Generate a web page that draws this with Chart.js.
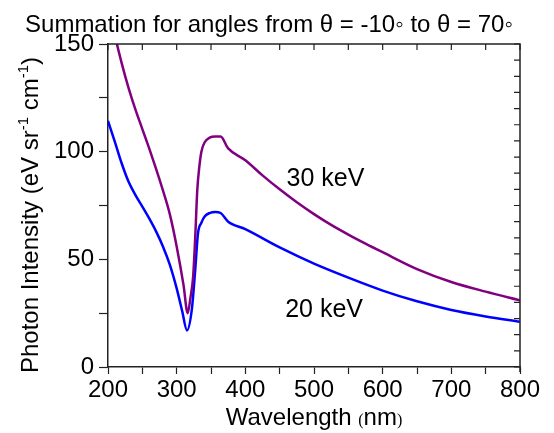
<!DOCTYPE html>
<html>
<head>
<meta charset="utf-8">
<script src="https://cdn.jsdelivr.net/npm/chart.js@4.4.1/dist/chart.umd.min.js"></script>
<style>
  html, body { margin: 0; padding: 0; background: #fff; }
  #wrap { width: 554px; height: 433px; }
</style>
</head>
<body>
<div id="wrap"><canvas id="spectrum"></canvas></div>
<script>
// Values
const wavelength30 = [200, 210, 220, 230, 240, 250, 260, 270, 280, 290, 300, 310, 316, 320, 324, 327, 330, 333, 336, 341, 348, 356, 364, 375, 400, 425, 450, 475, 500, 525, 550, 575, 600, 650, 700, 750, 800];
const intensity30  = [168, 154, 141, 129.5, 119.5, 110.5, 101.5, 92, 82, 71, 56, 38, 25, 32, 42, 60, 82, 93, 100, 104.5, 106.5, 107, 107, 101.5, 96, 89, 82.5, 76.5, 71, 66, 61.5, 57.3, 53.3, 45.5, 39.5, 35, 31];

const wavelength20 = [200, 210, 220, 230, 240, 250, 260, 270, 280, 290, 300, 308, 315, 322, 327, 331, 336, 341, 348, 356, 364, 375, 400, 450, 500, 550, 600, 650, 700, 750, 800];
const intensity20  = [114.3, 104.5, 94.5, 86, 79.8, 74.5, 69, 63, 56, 47.5, 36.5, 26, 17, 26.5, 45, 62, 67, 70, 71.5, 72, 71.5, 67.5, 64, 55.5, 48, 41.5, 35.5, 30.5, 26.5, 23.5, 21];

const xTickLabels = [200, 300, 400, 500, 600, 700, 800];
const yTickLabels = [0, 50, 100, 150];

const chartTitle = 'Summation for angles from \u03b8 = -10\u25e6 to \u03b8 = 70\u25e6';
const seriesNames = ['30 keV', '20 keV'];
const seriesColors = ['#800080', '#0000ff'];
// where the in-plot labels sit (data coords)
const labelPos = [[460, 84], [458, 23.4]];

const FONT = 'Arial, "Liberation Sans", sans-serif';

function toPoints(xs, ys) {
    return xs.map((x, i) => ({ x: x, y: ys[i] }));
}

// frame, inward ticks on top/right, in-plot labels, titles
const decorations = {
    id: 'decorations',
    afterDraw(chart) {
        const ctx = chart.ctx;
        const { left, right, top, bottom } = chart.chartArea;
        const xs = chart.scales.x, ys = chart.scales.y;
        ctx.save();
        ctx.strokeStyle = '#222';
        ctx.lineWidth = 1.5;
        ctx.beginPath();
        ctx.moveTo(left, top);
        ctx.lineTo(right, top);
        ctx.lineTo(right, bottom + 5);
        ctx.stroke();

        ctx.lineWidth = 1.2;
        ctx.beginPath();
        for (let v = 200; v <= 800; v += 50) {
            const px = xs.getPixelForValue(v);
            ctx.moveTo(px, top);
            ctx.lineTo(px, top + 6);
        }
        for (let v = 0; v <= 150; v += 7.5) {
            const py = ys.getPixelForValue(v);
            ctx.moveTo(right, py);
            ctx.lineTo(right - 6, py);
        }
        ctx.stroke();

        ctx.fillStyle = '#000';
        ctx.textBaseline = 'alphabetic';

        // main title
        ctx.font = '24px ' + FONT;
        ctx.textAlign = 'center';
        ctx.fillText(chartTitle, 269, 32);

        // curve labels
        ctx.font = '25px ' + FONT;
        ctx.textAlign = 'left';
        seriesNames.forEach((name, i) => {
            ctx.fillText(name, xs.getPixelForValue(labelPos[i][0]), ys.getPixelForValue(labelPos[i][1]));
        });

        // x title with small parentheses
        const parts = [
            { t: 'Wavelength ', f: '24px ' + FONT },
            { t: '(', f: '16px "Liberation Serif", serif' },
            { t: 'nm', f: '24px ' + FONT },
            { t: ')', f: '16px "Liberation Serif", serif' }
        ];
        let w = 0;
        parts.forEach(p => { ctx.font = p.f; w += ctx.measureText(p.t).width; });
        let cx = (left + right) / 2 - w / 2;
        parts.forEach(p => {
            ctx.font = p.f;
            ctx.fillText(p.t, cx, 425);
            cx += ctx.measureText(p.t).width;
        });

        // y title, rotated, with superscripts
        const yparts = [
            { t: 'Photon Intensity (eV sr', f: '24px ' + FONT, dy: 0 },
            { t: '-1', f: '15px ' + FONT, dy: -10 },
            { t: ' cm', f: '24px ' + FONT, dy: 0 },
            { t: '-1', f: '15px ' + FONT, dy: -10 },
            { t: ')', f: '24px ' + FONT, dy: 0 }
        ];
        ctx.translate(37.5, 215);
        ctx.rotate(-Math.PI / 2);
        w = 0;
        yparts.forEach(p => { ctx.font = p.f; w += ctx.measureText(p.t).width; });
        cx = -w / 2;
        yparts.forEach(p => {
            ctx.font = p.f;
            ctx.fillText(p.t, cx, p.dy);
            cx += ctx.measureText(p.t).width;
        });
        ctx.restore();
    }
};

const ctx = document.getElementById('spectrum').getContext('2d');
new Chart(ctx, {
    type: 'line',
    data: {
        datasets: [
            {
                label: seriesNames[0],
                data: toPoints(wavelength30, intensity30),
                borderColor: seriesColors[0],
                borderWidth: 2.5,
                pointRadius: 0,
                fill: false,
                cubicInterpolationMode: 'monotone'
            },
            {
                label: seriesNames[1],
                data: toPoints(wavelength20, intensity20),
                borderColor: seriesColors[1],
                borderWidth: 2.5,
                pointRadius: 0,
                fill: false,
                cubicInterpolationMode: 'monotone'
            }
        ]
    },
    options: {
        responsive: true,
        maintainAspectRatio: false,
        animation: false,
        layout: { padding: { left: 0, right: 34, top: 44, bottom: 0 } },
        plugins: {
            legend: { display: false },
            tooltip: { enabled: false },
            title: { display: false }
        },
        scales: {
            x: {
                type: 'linear',
                min: 200,
                max: 800,
                border: { color: '#222', width: 1.5 },
                grid: { drawOnChartArea: false, tickLength: 7, tickColor: '#222', tickWidth: 1.2 },
                ticks: {
                    stepSize: 50,
                    autoSkip: false,
                    maxRotation: 0,
                    padding: 2,
                    color: '#000',
                    font: { family: FONT, size: 24 },
                    callback: v => xTickLabels.includes(v) ? String(v) : ''
                },
                afterFit: s => { s.height = 66; }
            },
            y: {
                min: 0,
                max: 150,
                border: { color: '#222', width: 1.5 },
                grid: { drawOnChartArea: false, tickLength: 9, tickColor: '#222', tickWidth: 1.2 },
                ticks: {
                    stepSize: 25,
                    autoSkip: false,
                    padding: 5,
                    color: '#000',
                    font: { family: FONT, size: 24 },
                    callback: v => yTickLabels.includes(v) ? String(v) : ''
                },
                afterFit: s => { s.width = 108; }
            }
        }
    },
    plugins: [decorations]
});
</script>
</body>
</html>
